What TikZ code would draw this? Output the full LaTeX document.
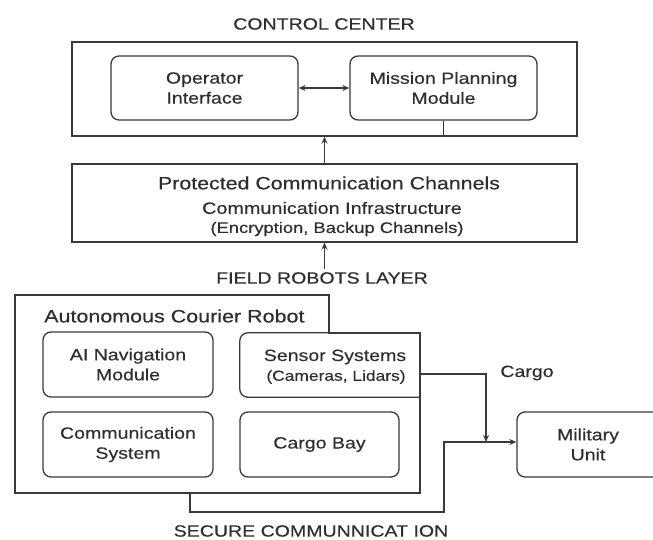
\documentclass[tikz,border=0pt]{standalone}
\usepackage{fontspec}
\setmainfont[FakeStretch=1.2,FakeBold=0.35]{Liberation Sans}
\usetikzlibrary{arrows.meta}
\definecolor{ln}{HTML}{3A3A3A}
\definecolor{tx}{HTML}{2E2E2E}
\newcommand{\fsz}[1]{\fontsize{#1}{20}\selectfont}
\begin{document}
\begin{tikzpicture}[x=1pt,y=-1pt,
  frame/.style={draw=ln, line width=1.3pt, inner sep=0pt},
  rbox/.style={frame, rounded corners=8pt, align=center, text=tx, font=\fsz{16.3}},
  plain/.style={inner sep=0pt, minimum width=0pt, minimum height=0pt},
  lbl/.style={inner sep=0pt, text=tx, font=\fsz{16.3}},
  conn/.style={draw=ln, line width=1.3pt},
  tipend/.style={-{Stealth[length=7pt,width=6pt]}},
  tipboth/.style={{Stealth[length=7pt,width=6pt]}-{Stealth[length=7pt,width=6pt]}}]
\useasboundingbox (0,0) rectangle (653,540);
\clip (0,0) rectangle (653,540);

% ---------- control center ----------
\node[lbl] (cct) at (324,24) {CONTROL CENTER};
\node[frame, minimum width=505pt, minimum height=94pt] (cc) at (324.5,89) {};
\node[rbox, minimum width=187pt, minimum height=64pt] (op) at (204.5,88) {Operator\\Interface};
\node[rbox, minimum width=187pt, minimum height=64pt] (mp) at (443.5,88) {Mission Planning\\Module};
\draw[conn, tipboth] (op) -- (mp);
\draw[conn] (mp.south) -- (mp.south |- cc.south);

% ---------- protected channels ----------
\node[frame, minimum width=505pt, minimum height=78pt] (pc) at (324.5,203) {};
\node[lbl, font=\fsz{17.8}] (pc1) at (329,183) {Protected Communication Channels};
\node[lbl, font=\fsz{16.5}] (pc2) at (332,208) {Communication Infrastructure};
\node[lbl, font=\fsz{15.3}] (pc3) at (337,229) {(Encryption, Backup Channels)};
\draw[conn, tipend] (pc.north) -- (cc.south);

% ---------- field robots ----------
\node[lbl] (frl) at (322,278) {FIELD ROBOTS LAYER};
\draw[conn, tipend, shorten <=3pt] (pc.south |- frl.north) -- (pc.south);

% robot outline
\draw[frame] (15,295) -- (329,295) -- (329,333) -- (420,333) -- (420,493) -- (15,493) -- cycle;
\node[lbl, font=\fsz{17.9}, anchor=west] (acr) at (44,316) {Autonomous Courier Robot};
\node[rbox, minimum width=170pt, minimum height=65pt] (ai) at (128,364.5) {AI Navigation\\Module};
\node[rbox, minimum width=170pt, minimum height=65pt] (cs) at (128,444.5) {Communication\\System};
\node[plain, minimum width=180pt, minimum height=64pt] (sen) at (330,365) {};
\draw[frame, rounded corners=8pt] (sen.north east) -- (sen.north west) -- (sen.south west) -- (sen.south east);
\node[lbl] (sen1) at (335,357) {Sensor Systems};
\node[lbl, font=\fsz{14.5}] (sen2) at (336,377) {(Cameras, Lidars)};
\node[rbox, minimum width=159pt, minimum height=65pt] (cb) at (319.5,444.5) {Cargo Bay};

% military unit
\node[frame, rounded corners=8pt, minimum width=160pt, minimum height=65pt] (mu) at (597,444.5) {};
\node[lbl, align=center] (mut) at (588,444.5) {Military\\Unit};

% connectors
\coordinate (cj) at (486,442);
\coordinate (rb) at (190,493);
\coordinate (sj) at (444,512);
\draw[conn, tipend] ([yshift=-9pt]sen.east) -| (cj);
\node[lbl] (cgl) at (527,373) {Cargo};
\draw[conn, tipend] (rb) |- (sj) -- (sj |- cj) -- (mu.west |- cj);
\node[lbl] (scl) at (311,531) {SECURE COMMUNNICAT ION};
\end{tikzpicture}
\end{document}
